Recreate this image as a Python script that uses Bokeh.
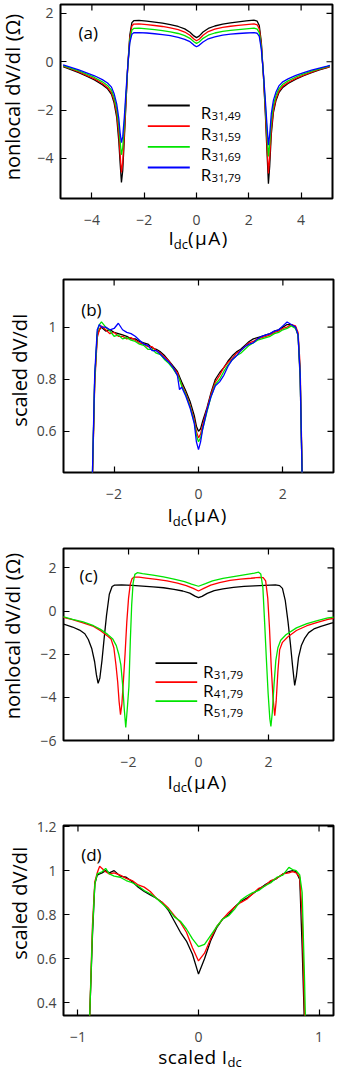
from bokeh.plotting import figure
from bokeh.models import Range1d, FixedTicker, Label, CustomJSTickFormatter, Div
from bokeh.layouts import column, row
from bokeh.embed import file_html
from bokeh.resources import INLINE

# ---------------- data ----------------
# panel (a): nonlocal dV/dI vs I_dc for R31,49 / R31,59 / R31,69 / R31,79
x_a = [-5.1, -4.8, -4.5, -4.2, -3.9, -3.6, -3.4, -3.25, -3.15, -3.05,
       -2.97, -2.92, -2.87, -2.82, -2.76, -2.70, -2.63, -2.55, -2.47, -2.4,
       -2.2, -1.9, -1.6, -1.3, -1.0, -0.7, -0.45, -0.25, -0.1, 0.0,
       0.1, 0.25, 0.45, 0.7, 1.0, 1.3, 1.6, 1.9, 2.2, 2.32,
       2.4, 2.48, 2.56, 2.63, 2.69, 2.75, 2.80, 2.86, 2.94, 3.04,
       3.15, 3.3, 3.5, 3.8, 4.1, 4.4, 4.7, 5.0, 5.1]
a_r3149 = [-0.20, -0.33, -0.45, -0.60, -0.75, -0.95, -1.12, -1.35, -1.70, -2.30,
           -3.30, -4.20, -5.00, -4.50, -3.20, -1.80, -0.20, 1.10, 1.62, 1.70,
           1.71, 1.68, 1.64, 1.60, 1.54, 1.46, 1.36, 1.22, 1.07, 1.00,
           1.06, 1.23, 1.38, 1.48, 1.56, 1.61, 1.65, 1.69, 1.72, 1.68,
           1.50, 0.80, -0.60, -2.10, -3.60, -5.05, -4.30, -3.00, -2.10, -1.60,
           -1.28, -1.06, -0.90, -0.72, -0.58, -0.45, -0.34, -0.24, -0.20]
a_r3159 = [-0.18, -0.30, -0.42, -0.56, -0.71, -0.90, -1.07, -1.28, -1.60, -2.15,
           -3.00, -3.85, -4.58, -4.15, -3.00, -1.70, -0.25, 0.98, 1.48, 1.56,
           1.57, 1.54, 1.50, 1.46, 1.40, 1.33, 1.23, 1.10, 0.94, 0.87,
           0.93, 1.10, 1.25, 1.35, 1.42, 1.47, 1.51, 1.54, 1.57, 1.53,
           1.36, 0.70, -0.60, -1.95, -3.30, -4.62, -3.95, -2.80, -2.00, -1.53,
           -1.22, -1.01, -0.86, -0.69, -0.55, -0.43, -0.32, -0.23, -0.19]
a_r3169 = [-0.16, -0.27, -0.38, -0.51, -0.65, -0.83, -0.98, -1.18, -1.48, -1.95,
           -2.65, -3.30, -3.85, -3.55, -2.60, -1.50, -0.25, 0.88, 1.31, 1.38,
           1.39, 1.36, 1.33, 1.29, 1.24, 1.17, 1.08, 0.97, 0.83, 0.76,
           0.82, 0.97, 1.10, 1.19, 1.26, 1.30, 1.33, 1.36, 1.39, 1.35,
           1.20, 0.60, -0.55, -1.75, -2.85, -3.92, -3.40, -2.45, -1.80, -1.40,
           -1.12, -0.93, -0.79, -0.63, -0.50, -0.39, -0.29, -0.20, -0.17]
a_r3179 = [-0.13, -0.23, -0.34, -0.46, -0.58, -0.74, -0.88, -1.05, -1.32, -1.75,
           -2.35, -2.95, -3.35, -3.10, -2.30, -1.30, -0.20, 0.78, 1.14, 1.20,
           1.21, 1.19, 1.16, 1.12, 1.08, 1.01, 0.93, 0.83, 0.69, 0.62,
           0.68, 0.82, 0.95, 1.03, 1.10, 1.14, 1.17, 1.19, 1.21, 1.18,
           1.05, 0.50, -0.50, -1.55, -2.55, -3.45, -3.00, -2.15, -1.60, -1.25,
           -1.00, -0.83, -0.71, -0.56, -0.45, -0.35, -0.26, -0.18, -0.15]
a_labels = ["31,49", "31,59", "31,69", "31,79"]

# panel (b): scaled dV/dI vs I_dc
x_b = [-2.52, -2.46, -2.40, -2.35, -2.30, -2.20, -2.10, -2.00, -1.90, -1.80,
       -1.70, -1.60, -1.50, -1.40, -1.30, -1.20, -1.10, -1.00, -0.90, -0.80,
       -0.70, -0.60, -0.50, -0.45, -0.40, -0.30, -0.20, -0.10, -0.05, 0.00,
       0.05, 0.10, 0.20, 0.30, 0.40, 0.50, 0.60, 0.70, 0.80, 0.90,
       1.00, 1.10, 1.20, 1.30, 1.40, 1.50, 1.60, 1.70, 1.80, 1.90,
       2.00, 2.10, 2.20, 2.30, 2.36, 2.41, 2.46]
b_r3149 = [0.38, 0.80, 0.97, 0.99, 1.00, 0.985, 0.99, 0.98, 0.975, 0.97,
           0.965, 0.955, 0.955, 0.945, 0.94, 0.935, 0.92, 0.915, 0.905, 0.89,
           0.87, 0.85, 0.83, 0.81, 0.79, 0.755, 0.715, 0.66, 0.62, 0.60,
           0.61, 0.64, 0.69, 0.75, 0.80, 0.825, 0.845, 0.87, 0.89, 0.905,
           0.915, 0.93, 0.945, 0.955, 0.96, 0.965, 0.97, 0.975, 0.985, 0.99,
           1.00, 1.01, 1.01, 1.00, 0.97, 0.80, 0.40]
b_r3159 = [0.38, 0.78, 0.96, 0.99, 1.005, 0.99, 0.975, 0.98, 0.965, 0.965,
           0.955, 0.96, 0.95, 0.94, 0.935, 0.925, 0.925, 0.91, 0.90, 0.885,
           0.87, 0.845, 0.825, 0.80, 0.78, 0.745, 0.70, 0.645, 0.60, 0.575,
           0.59, 0.625, 0.685, 0.745, 0.79, 0.815, 0.845, 0.865, 0.88, 0.90,
           0.91, 0.925, 0.94, 0.945, 0.955, 0.96, 0.965, 0.97, 0.98, 0.985,
           0.995, 1.00, 1.01, 1.005, 0.98, 0.85, 0.42]
b_r3169 = [0.40, 0.80, 0.98, 1.01, 1.02, 1.00, 0.985, 0.965, 0.97, 0.955,
           0.96, 0.95, 0.945, 0.935, 0.93, 0.915, 0.915, 0.90, 0.895, 0.875,
           0.86, 0.84, 0.815, 0.80, 0.775, 0.74, 0.695, 0.635, 0.585, 0.56,
           0.575, 0.61, 0.675, 0.735, 0.78, 0.80, 0.83, 0.855, 0.875, 0.89,
           0.90, 0.915, 0.93, 0.94, 0.95, 0.955, 0.96, 0.965, 0.975, 0.98,
           0.99, 0.995, 1.005, 0.995, 0.97, 0.82, 0.40]
b_r3179 = [0.40, 0.82, 0.99, 1.01, 1.00, 1.00, 0.99, 0.995, 1.015, 0.99,
           0.98, 0.975, 0.965, 0.95, 0.935, 0.93, 0.91, 0.91, 0.895, 0.88,
           0.865, 0.845, 0.815, 0.76, 0.77, 0.735, 0.69, 0.63, 0.56, 0.53,
           0.56, 0.61, 0.68, 0.735, 0.775, 0.79, 0.815, 0.85, 0.875, 0.89,
           0.91, 0.925, 0.935, 0.94, 0.955, 0.965, 0.97, 0.975, 0.985, 0.99,
           1.005, 1.02, 1.01, 1.00, 0.97, 0.82, 0.40]

# panel (c): R31,79 (same measurement as in (a)), R41,79, R51,79
x_c41 = [-3.9, -3.6, -3.3, -3.0, -2.8, -2.6, -2.5, -2.42, -2.36, -2.31,
         -2.27, -2.23, -2.19, -2.15, -2.10, -2.05, -2.00, -1.95, -1.90, -1.85,
         -1.70, -1.50, -1.20, -0.90, -0.60, -0.35, -0.15, 0.00, 0.15, 0.35,
         0.60, 0.90, 1.20, 1.50, 1.75, 1.85, 1.92, 1.98, 2.03, 2.08,
         2.13, 2.18, 2.22, 2.27, 2.32, 2.40, 2.55, 2.80, 3.10, 3.40,
         3.70, 3.90]
c_r4179 = [-0.28, -0.40, -0.55, -0.71, -0.91, -1.16, -1.30, -1.70, -2.50, -3.30,
           -4.20, -4.80, -4.30, -3.30, -2.00, -0.50, 0.60, 1.25, 1.50, 1.57,
           1.57, 1.53, 1.47, 1.40, 1.30, 1.18, 1.05, 0.93, 1.05, 1.20,
           1.32, 1.42, 1.48, 1.52, 1.56, 1.55, 1.40, 0.60, -0.80, -2.60,
           -4.00, -4.85, -4.20, -2.80, -1.80, -1.45, -1.20, -0.90, -0.68, -0.52,
           -0.38, -0.33]
x_c51 = [-3.9, -3.6, -3.3, -3.0, -2.8, -2.6, -2.45, -2.35, -2.28, -2.22,
         -2.17, -2.12, -2.08, -2.03, -1.99, -1.95, -1.91, -1.87, -1.82, -1.75,
         -1.60, -1.30, -1.00, -0.70, -0.40, -0.20, 0.00, 0.20, 0.40, 0.70,
         1.00, 1.30, 1.60, 1.72, 1.78, 1.84, 1.89, 1.94, 1.99, 2.04,
         2.07, 2.11, 2.16, 2.21, 2.27, 2.35, 2.50, 2.80, 3.10, 3.40,
         3.70, 3.90]
c_r5179 = [-0.25, -0.38, -0.50, -0.68, -0.85, -1.08, -1.30, -1.60, -2.00, -2.50,
           -3.40, -4.60, -5.40, -4.40, -3.50, -1.40, 0.30, 1.30, 1.70, 1.78,
           1.74, 1.67, 1.58, 1.48, 1.36, 1.25, 1.15, 1.27, 1.40, 1.52,
           1.60, 1.68, 1.76, 1.80, 1.72, 1.10, -0.50, -2.20, -3.80, -5.00,
           -5.35, -4.70, -3.40, -2.30, -1.70, -1.35, -1.10, -0.78, -0.58, -0.44,
           -0.32, -0.28]
c_labels = ["31,79", "41,79", "51,79"]

# panel (d): scaled dV/dI vs scaled I_dc
x_d = [-0.905, -0.88, -0.86, -0.84, -0.82, -0.80, -0.77, -0.74, -0.70, -0.65,
       -0.60, -0.55, -0.50, -0.45, -0.40, -0.35, -0.30, -0.25, -0.20, -0.15,
       -0.10, -0.05, 0.00, 0.05, 0.10, 0.15, 0.20, 0.25, 0.30, 0.35,
       0.40, 0.45, 0.50, 0.55, 0.60, 0.65, 0.70, 0.75, 0.78, 0.81,
       0.84, 0.86, 0.88, 0.89]
d_r3179 = [0.30, 0.70, 0.94, 0.98, 0.985, 0.99, 1.00, 0.99, 1.00, 0.975,
           0.97, 0.95, 0.925, 0.905, 0.89, 0.875, 0.855, 0.82, 0.77, 0.72,
           0.68, 0.62, 0.53, 0.60, 0.68, 0.74, 0.78, 0.80, 0.835, 0.86,
           0.875, 0.895, 0.915, 0.935, 0.95, 0.965, 0.985, 0.995, 1.00, 0.995,
           0.96, 0.65, 0.28, 0.25]
d_r4179 = [0.30, 0.75, 0.95, 0.99, 1.02, 1.01, 0.995, 0.985, 0.99, 0.98,
           0.965, 0.955, 0.935, 0.925, 0.905, 0.875, 0.855, 0.83, 0.795, 0.765,
           0.72, 0.65, 0.59, 0.625, 0.69, 0.745, 0.78, 0.81, 0.835, 0.855,
           0.87, 0.895, 0.92, 0.93, 0.955, 0.965, 0.985, 0.99, 0.995, 0.99,
           0.97, 0.80, 0.35, 0.25]
d_r5179 = [0.30, 0.72, 0.94, 0.985, 0.99, 0.995, 1.01, 0.985, 0.975, 0.97,
           0.955, 0.945, 0.93, 0.91, 0.895, 0.875, 0.85, 0.825, 0.79, 0.77,
           0.735, 0.69, 0.655, 0.665, 0.705, 0.745, 0.78, 0.795, 0.825, 0.865,
           0.885, 0.90, 0.91, 0.93, 0.945, 0.97, 0.98, 1.015, 1.005, 1.00,
           0.98, 0.90, 0.50, 0.25]

# tick values
xt_a = [-4, -2, 0, 2, 4]
yt_a = [-4, -2, 0, 2]
xt_b = [-2, 0, 2]
yt_b = [0.6, 0.8, 1]
xt_c = [-2, 0, 2]
yt_c = [-6, -4, -2, 0, 2]
xt_d = [-1, 0, 1]
yt_d = [0.4, 0.6, 0.8, 1, 1.2]

# ---------------- styling ----------------
FONT = "Open Sans"
BLACK, RED, GREEN, BLUE = "#000000", "#ff0000", "#00e400", "#0000ff"
TICK_COLOR = "#444444"
TOTAL_W = 350
YLAB_W = 30
FIG_W = TOTAL_W - YLAB_W
LW = 1.3
TICK_LEN = 6

fmt_code = "const s = String(Math.round(Math.abs(tick)*100)/100); return tick < 0 ? '\u2212' + s : s;"


def make_panel(page_top, bl, fw, bt, fh, bb, xr, yr, xt, yt):
    height = bt + fh + bb
    p = figure(width=FIG_W, height=height, x_range=Range1d(*xr), y_range=Range1d(*yr),
               output_backend="svg", toolbar_location=None,
               min_border_left=bl, min_border_right=FIG_W - bl - fw,
               min_border_top=bt, min_border_bottom=bb)
    p.xgrid.visible = False
    p.ygrid.visible = False
    p.outline_line_color = "black"
    p.outline_line_width = 2
    p.outline_line_alpha = 1.0
    p.background_fill_color = "white"
    p.border_fill_color = "white"
    for ax, ticks, stand in ((p.xaxis[0], xt, 16), (p.yaxis[0], yt, 7)):
        ax.ticker = FixedTicker(ticks=ticks)
        ax.formatter = CustomJSTickFormatter(code=fmt_code)
        ax.major_label_text_font = FONT
        ax.major_label_text_font_size = "14px"
        ax.major_label_text_color = TICK_COLOR
        ax.major_tick_in = TICK_LEN
        ax.major_tick_out = 0
        ax.major_tick_line_color = "black"
        ax.major_tick_line_width = 1.2
        ax.minor_tick_line_color = None
        ax.axis_line_color = None
        ax.major_label_standoff = stand
    info = dict(left=YLAB_W + bl, top=page_top + bt, w=fw, h=fh, xr=xr, yr=yr,
                page_top=page_top, height=height)
    # mirrored inward ticks on the top and right frame edges
    ytop, yb0 = yr[1], yr[0]
    xright, xl0 = xr[1], xr[0]
    ylen = TICK_LEN / fh * (ytop - yb0)
    xlen = TICK_LEN / fw * (xright - xl0)
    p.segment(x0=xt, x1=xt, y0=[ytop] * len(xt), y1=[ytop - ylen] * len(xt),
              line_color="black", line_width=1.2)
    p.segment(x0=[xright] * len(yt), x1=[xright - xlen] * len(yt), y0=yt, y1=yt,
              line_color="black", line_width=1.2)
    return p, info


def dx(info, px):
    x0, x1 = info["xr"]
    return x0 + (px - info["left"]) / info["w"] * (x1 - x0)


def dy(info, py):
    y0, y1 = info["yr"]
    return y1 - (py - info["top"]) / info["h"] * (y1 - y0)


def text(p, info, px, py, s, size, color="black"):
    p.add_layout(Label(x=dx(info, px), y=dy(info, py), text=s, text_font=FONT,
                       text_font_size=size, text_color=color, text_align="left",
                       text_baseline="alphabetic"))


def legend(p, info, xl0, xl1, ys, names, colors, xR, dR, dS):
    p.segment(x0=[dx(info, xl0)] * len(ys), x1=[dx(info, xl1)] * len(ys),
              y0=[dy(info, y) for y in ys], y1=[dy(info, y) for y in ys],
              line_color=colors, line_width=1.8)
    for y, n in zip(ys, names):
        text(p, info, xR, y + dR, "R", "17px")
        text(p, info, xR + 10.8, y + dS, n, "11.5px")


def ylabel_div(info, label, cx, cy_page):
    cy = cy_page - info["page_top"]
    html = ('<div style="position:relative;width:%dpx;height:%dpx;overflow:visible;">'
            '<span style="position:absolute;left:%.1fpx;top:%.1fpx;'
            'transform:translate(-50%%,-50%%) rotate(-90deg);white-space:nowrap;'
            "font-family:'Open Sans';font-size:20px;line-height:27px;color:#000;\">%s</span></div>"
            % (YLAB_W, info["height"], cx, cy, label))
    return Div(text=html, width=YLAB_W, height=info["height"], margin=0,
               styles={"overflow": "visible"})


def xlabel_div(top_page, height, px, base_page, main, sub, tail, main_sp, tail_sp):
    top = base_page - top_page - 20.4
    html = ('<div style="position:relative;width:%dpx;height:%dpx;overflow:visible;">'
            '<span style="position:absolute;left:%.1fpx;top:%.1fpx;white-space:nowrap;'
            "font-family:'Open Sans';font-size:19px;line-height:26px;color:#000;\">"
            '<span style="letter-spacing:%.1fpx;">%s</span>'
            '<span style="font-size:13px;position:relative;top:3.8px;">%s</span>'
            '<span style="letter-spacing:%.1fpx;">%s</span></span></div>'
            % (TOTAL_W, height, px, top, main_sp, main, sub, tail_sp, tail))
    return Div(text=html, width=TOTAL_W, height=height, margin=0,
               styles={"overflow": "visible"})


# panel (a)  (page rows 0..235, label row 235..274)
pa, ia = make_panel(0, 30, 272, 4, 194, 37, (-5.2, 5.2), (-5.66, 2.37), xt_a, yt_a)
for ys, c in ((a_r3149, BLACK), (a_r3159, RED), (a_r3169, GREEN), (a_r3179, BLUE)):
    pa.line(x_a, ys, line_color=c, line_width=LW)
text(pa, ia, 78, 32, "(a)", "17px")
legend(pa, ia, 147.3, 189.3, [105, 125.7, 146.3, 167], a_labels, [BLACK, RED, GREEN, BLUE], 200.3, 7, 10.5)
ya = ylabel_div(ia, "nonlocal dV/dI (\u03a9)", 11.5, 97)
xa = xlabel_div(235, 39, 168.5, 245.7, "I", "dc", "(\u03bcA)", 0, 1.5)

# panel (b)  (274..509, label row 509..543)
pb, ib = make_panel(274, 33, 270, 5, 193, 37, (-3.2, 3.2), (0.442, 1.183), xt_b, yt_b)
for ys, c in ((b_r3149, BLACK), (b_r3159, RED), (b_r3169, GREEN), (b_r3179, BLUE)):
    pb.line(x_b, ys, line_color=c, line_width=LW)
text(pb, ib, 80.7, 308.7, "(b)", "17px")
yb = ylabel_div(ib, "scaled dV/dI", 19, 370)
xb = xlabel_div(509, 34, 167.5, 522.3, "I", "dc", "(\u03bcA)", 0, 1.5)

# panel (c)  (543..777, label row 777..815)
pc, ic = make_panel(543, 33, 270, 5, 192, 37, (-3.86, 3.86), (-6.0, 2.9), xt_c, yt_c)
pc.line(x_a, a_r3179, line_color=BLACK, line_width=LW)
pc.line(x_c41, c_r4179, line_color=RED, line_width=LW)
pc.line(x_c51, c_r5179, line_color=GREEN, line_width=LW)
text(pc, ic, 79, 575.3, "(c)", "17px")
legend(pc, ic, 155, 196.7, [662.7, 681.7, 700.7], c_labels, [BLACK, RED, GREEN], 202.5, 8.5, 12)
yc = ylabel_div(ic, "nonlocal dV/dI (\u03a9)", 11.5, 636)
xc = xlabel_div(777, 38, 167.5, 789, "I", "dc", "(\u03bcA)", 0, 1.5)

# panel (d)  (815..1052, label row 1052..1076)
pd, idd = make_panel(815, 33, 270, 10, 190, 37, (-1.12, 1.12), (0.342, 1.205), xt_d, yt_d)
for ys, c in ((d_r3179, BLACK), (d_r4179, RED), (d_r5179, GREEN)):
    pd.line(x_d, ys, line_color=c, line_width=LW)
text(pd, idd, 80.7, 853.7, "(d)", "17px")
yd = ylabel_div(idd, "scaled dV/dI", 19, 902.5)
xd = xlabel_div(1052, 24, 158.3, 1064, "scaled I", "dc", "", 0.4, 0)

layout = column(row(ya, pa, spacing=0), xa,
                row(yb, pb, spacing=0), xb,
                row(yc, pc, spacing=0), xc,
                row(yd, pd, spacing=0), xd, spacing=0)
open("out.html", "w").write(file_html(layout, INLINE))
